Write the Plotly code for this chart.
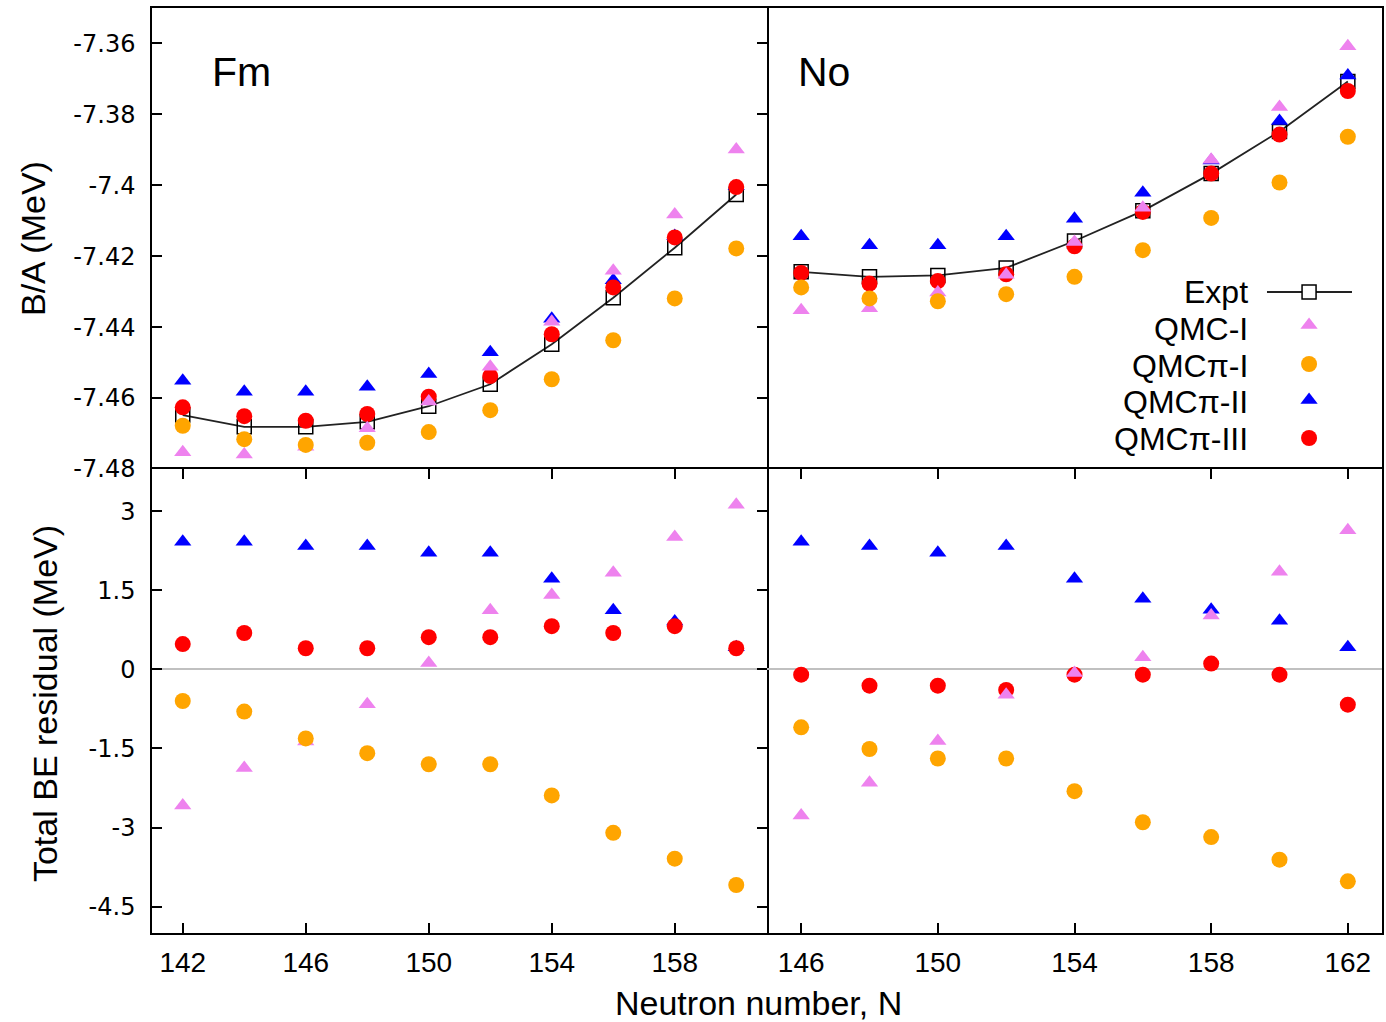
import plotly.graph_objects as go

# ---------------- data ----------------
N_Fm = [142, 144, 146, 148, 150, 152, 154, 156, 158, 160]
N_No = [146, 148, 150, 152, 154, 156, 158, 160, 162]

Fm_BA_expt   = [-7.4648, -7.4681, -7.4681, -7.4667, -7.4623, -7.4561, -7.4448, -7.4317, -7.4176, -7.4026]
Fm_BA_qmc1   = [-7.4753, -7.4759, -7.4737, -7.4685, -7.4610, -7.4512, -7.4385, -7.4241, -7.4082, -7.3899]
Fm_BA_qmcpi1 = [-7.4678, -7.4716, -7.4732, -7.4726, -7.4696, -7.4634, -7.4547, -7.4437, -7.4319, -7.4178]
Fm_BA_qmcpi2 = [-7.4551, -7.4582, -7.4582, -7.4568, -7.4532, -7.4471, -7.4376, -7.4268, -7.4143, -7.4003]
Fm_BA_qmcpi3 = [-7.4626, -7.4651, -7.4664, -7.4645, -7.4596, -7.4538, -7.4420, -7.4288, -7.4147, -7.4005]

No_BA_expt   = [-7.4244, -7.4258, -7.4254, -7.4233, -7.4157, -7.4072, -7.3967, -7.3848, -7.3707]
No_BA_qmc1   = [-7.4352, -7.4347, -7.4302, -7.4252, -7.4160, -7.4063, -7.3928, -7.3779, -7.3608]
No_BA_qmcpi1 = [-7.4288, -7.4319, -7.4327, -7.4307, -7.4258, -7.4183, -7.4092, -7.3992, -7.3863]
No_BA_qmcpi2 = [-7.4144, -7.4169, -7.4169, -7.4144, -7.4094, -7.4021, -7.3930, -7.3819, -7.3690]
No_BA_qmcpi3 = [-7.4247, -7.4277, -7.4270, -7.4251, -7.4172, -7.4075, -7.3967, -7.3857, -7.3734]

Fm_res_qmc1   = [-2.58, -1.87, -1.37, -0.66, 0.12, 1.12, 1.41, 1.83, 2.51, 3.12]
Fm_res_qmcpi1 = [-0.60, -0.80, -1.31, -1.59, -1.80, -1.80, -2.39, -3.10, -3.59, -4.09]
Fm_res_qmcpi2 = [2.42, 2.42, 2.34, 2.34, 2.21, 2.21, 1.72, 1.12, 0.91, 0.42]
Fm_res_qmcpi3 = [0.48, 0.69, 0.40, 0.40, 0.61, 0.61, 0.82, 0.69, 0.82, 0.40]

No_res_qmc1   = [-2.77, -2.15, -1.36, -0.48, -0.07, 0.23, 1.02, 1.85, 2.64]
No_res_qmcpi1 = [-1.10, -1.51, -1.69, -1.69, -2.31, -2.90, -3.18, -3.61, -4.02]
No_res_qmcpi2 = [2.42, 2.34, 2.21, 2.34, 1.72, 1.34, 1.13, 0.92, 0.42]
No_res_qmcpi3 = [-0.10, -0.31, -0.31, -0.39, -0.10, -0.10, 0.11, -0.10, -0.67]

series_names = ["Expt", "QMC-I", "QMCπ-I", "QMCπ-II", "QMCπ-III"]
BA_ticks = [-7.36, -7.38, -7.40, -7.42, -7.44, -7.46, -7.48]
BA_ticktext = ["-7.36", "-7.38", "-7.4", "-7.42", "-7.44", "-7.46", "-7.48"]
res_ticks = [3, 1.5, 0, -1.5, -3, -4.5]
res_ticktext = ["3", "1.5", "0", "-1.5", "-3", "-4.5"]
Fm_xticks = [142, 146, 150, 154, 158]
No_xticks = [146, 150, 154, 158, 162]

# legend key positions (fraction of plot area)
legend_key_y = [0.693, 0.6573, 0.6151, 0.5762, 0.5351]
legend_text_y = [0.693, 0.653, 0.613, 0.574, 0.534]

# ---------------- styles ----------------
VIOLET, ORANGE, BLUE, RED = "#EE82EE", "#FFA500", "#0000FF", "#FF0000"
sty = {
    "QMC-I": dict(symbol="triangle-up", size=15, color=VIOLET),
    "QMCπ-I": dict(symbol="circle", size=16, color=ORANGE),
    "QMCπ-II": dict(symbol="triangle-up", size=15, color=BLUE),
    "QMCπ-III": dict(symbol="circle", size=16, color=RED),
}
expt_marker = dict(symbol="square-open", size=14, color="black", line=dict(width=1.5, color="black"))

fig = go.Figure()

def add_panel(x, expt, q1, p1, p2, p3, xa, ya):
    if expt is not None:
        fig.add_trace(go.Scatter(x=x, y=expt, mode="lines+markers", line=dict(color="#222222", width=1.8),
                                 marker=expt_marker, xaxis=xa, yaxis=ya, showlegend=False))
    for name, vals in [("QMCπ-II", p2), ("QMCπ-III", p3), ("QMC-I", q1), ("QMCπ-I", p1)]:
        s = sty[name]
        fig.add_trace(go.Scatter(x=x, y=vals, mode="markers",
                                 marker=dict(symbol=s["symbol"], size=s["size"], color=s["color"], line=dict(width=0)),
                                 xaxis=xa, yaxis=ya, showlegend=False))

add_panel(N_Fm, Fm_BA_expt, Fm_BA_qmc1, Fm_BA_qmcpi1, Fm_BA_qmcpi2, Fm_BA_qmcpi3, "x", "y")
add_panel(N_No, No_BA_expt, No_BA_qmc1, No_BA_qmcpi1, No_BA_qmcpi2, No_BA_qmcpi3, "x2", "y2")
add_panel(N_Fm, None, Fm_res_qmc1, Fm_res_qmcpi1, Fm_res_qmcpi2, Fm_res_qmcpi3, "x3", "y3")
add_panel(N_No, None, No_res_qmc1, No_res_qmcpi1, No_res_qmcpi2, No_res_qmcpi3, "x4", "y4")

# ---------------- custom legend (keys to the right of text) ----------------
key_x = 0.9407
line_x0, line_x1 = 0.9065, 0.9756
fig.add_trace(go.Scatter(x=[line_x0, line_x1], y=[legend_key_y[0]] * 2, mode="lines",
                         line=dict(color="#222222", width=1.8), xaxis="x5", yaxis="y5", showlegend=False))
fig.add_trace(go.Scatter(x=[key_x], y=[legend_key_y[0]], mode="markers",
                         marker=dict(symbol="square", size=14, color="white", line=dict(width=1.5, color="black")),
                         xaxis="x5", yaxis="y5", showlegend=False))
for i, name in enumerate(series_names[1:], start=1):
    s = sty[name]
    fig.add_trace(go.Scatter(x=[key_x], y=[legend_key_y[i]], mode="markers",
                             marker=dict(symbol=s["symbol"], size=s["size"], color=s["color"], line=dict(width=0)),
                             xaxis="x5", yaxis="y5", showlegend=False))

annotations = []
for i, name in enumerate(series_names):
    annotations.append(dict(text=name, x=0.8927, y=legend_text_y[i], xref="paper", yref="paper",
                            xanchor="right", yanchor="middle", showarrow=False,
                            font=dict(family="Liberation Sans", size=32, color="black")))

annotations += [
    dict(text="Fm", x=0.047, y=0.9308, xref="paper", yref="paper", xanchor="left", yanchor="middle",
         showarrow=False, font=dict(family="Liberation Sans", size=41, color="black")),
    dict(text="No", x=0.5235, y=0.9308, xref="paper", yref="paper", xanchor="left", yanchor="middle",
         showarrow=False, font=dict(family="Liberation Sans", size=41, color="black")),
    dict(text="B/A (MeV)", x=-0.0967, y=0.7503, xref="paper", yref="paper", xanchor="center", yanchor="middle",
         textangle=-90, showarrow=False, font=dict(family="Liberation Sans", size=34, color="black")),
    dict(text="Total BE residual (MeV)", x=-0.087, y=0.2486, xref="paper", yref="paper", xanchor="center",
         yanchor="middle", textangle=-90, showarrow=False, font=dict(family="Liberation Sans", size=34, color="black")),
    dict(text="Neutron number, N", x=0.4927, y=-0.0757, xref="paper", yref="paper", xanchor="center",
         yanchor="middle", showarrow=False, font=dict(family="Liberation Sans", size=34, color="black")),
]

# ---------------- axes ----------------
top_dom = [464 / 925, 1.0]
bot_dom = [0.0, 464 / 925]
frame = dict(showline=True, linecolor="black", linewidth=1.5, showgrid=False, zeroline=False)
yfont = dict(family="DejaVu Sans", size=24, color="black")
xfont = dict(family="Liberation Sans", size=28, color="black")

fig.update_layout(
    width=1386, height=1022,
    margin=dict(l=152, r=4, t=8, b=89),
    paper_bgcolor="white", plot_bgcolor="rgba(0,0,0,0)",
    showlegend=False,
    annotations=annotations,
    # top panels: only top border line from x axes (middle line comes from bottom panels)
    xaxis=dict(domain=[0, 0.5], range=[141, 161], anchor="y", side="top", mirror=False, ticks="",
               showticklabels=False, **frame),
    xaxis2=dict(domain=[0.5, 1], range=[145, 163], anchor="y2", side="top", mirror=False, ticks="",
                showticklabels=False, **frame),
    xaxis3=dict(domain=[0, 0.5], range=[141, 161], anchor="y3", mirror="ticks", ticks="inside", ticklen=10,
                tickwidth=1.5, tickcolor="black", tickvals=Fm_xticks, tickfont=xfont, ticklabelstandoff=4, **frame),
    xaxis4=dict(domain=[0.5, 1], range=[145, 163], anchor="y4", mirror="ticks", ticks="inside", ticklen=10,
                tickwidth=1.5, tickcolor="black", tickvals=No_xticks, tickfont=xfont, ticklabelstandoff=4, **frame),
    yaxis=dict(domain=top_dom, range=[-7.48, -7.35], anchor="x", mirror="ticks", ticks="inside", ticklen=10,
               tickwidth=1.5, tickcolor="black", tickvals=BA_ticks, ticktext=BA_ticktext, tickfont=yfont,
               ticklabelstandoff=10, **frame),
    # right panels: only right border line (divider comes from left panels' mirror)
    yaxis2=dict(domain=top_dom, range=[-7.48, -7.35], anchor="x2", side="right", mirror=False, ticks="",
                showticklabels=False, **frame),
    yaxis3=dict(domain=bot_dom, range=[-5.0, 3.8], anchor="x3", mirror="ticks", ticks="inside", ticklen=10,
                tickwidth=1.5, tickcolor="black", tickvals=res_ticks, ticktext=res_ticktext, tickfont=yfont,
                ticklabelstandoff=10, showline=True, linecolor="black", linewidth=1.5, showgrid=False,
                zeroline=True, zerolinecolor="#c0c0c0", zerolinewidth=1.5),
    yaxis4=dict(domain=bot_dom, range=[-5.0, 3.8], anchor="x4", side="right", mirror=False, ticks="",
                showticklabels=False, showline=True, linecolor="black", linewidth=1.5, showgrid=False,
                zeroline=True, zerolinecolor="#c0c0c0", zerolinewidth=1.5),
    xaxis5=dict(domain=[0, 1], range=[0, 1], anchor="y5", visible=False, fixedrange=True),
    yaxis5=dict(domain=[0, 1], range=[0, 1], anchor="x5", visible=False, fixedrange=True),
)

fig.write_html("out.html")
